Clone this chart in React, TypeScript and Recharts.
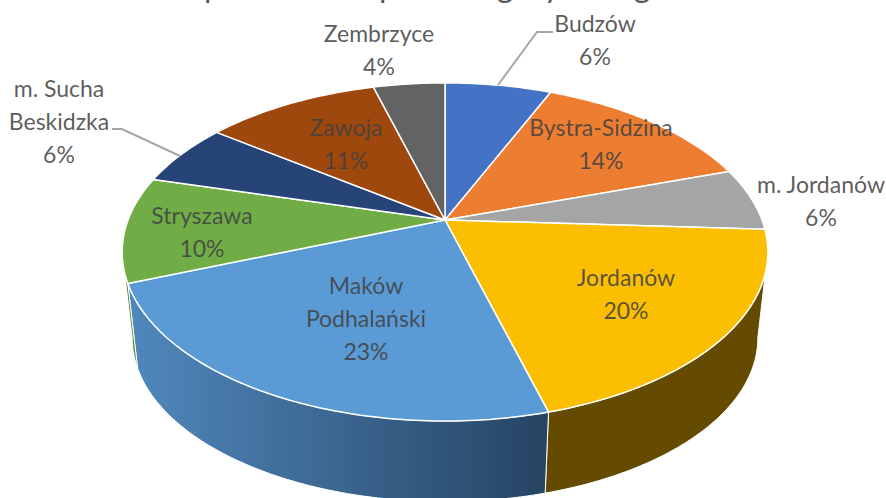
import React from 'react';
import { PieChart, Pie } from 'recharts';

const gminy = ['Budzów', 'Bystra-Sidzina', 'm. Jordanów', 'Jordanów', 'Maków Podhalański', 'Stryszawa', 'm. Sucha Beskidzka', 'Zawoja', 'Zembrzyce'];
// the printed labels are rounded
const shares = [6.4, 13.5, 6, 19.8, 23.4, 10.1, 6, 10.5, 4.3];
const topColors = ['#4472c4', '#ed7d31', '#a5a5a5', '#fbbe00', '#5b9bd5', '#70ad47', '#264478', '#9e480e', '#636363'];
const wallColors = ['#2b4a80', '#8f4c1e', '#666666', '#654b00', 'url(#makowWall)', '#5a8a3a', '#1c3358', '#6b310a', '#444444'];

// label text lines, one entry per gmina, anchor is the centre of the first line
const labelLines = [['Budzów', '6%'], ['Bystra-Sidzina', '14%'], ['m. Jordanów', '6%'], ['Jordanów', '20%'], ['Maków', 'Podhalański', '23%'], ['Stryszawa', '10%'], ['m. Sucha', 'Beskidzka', '6%'], ['Zawoja', '11%'], ['Zembrzyce', '4%']];
const labelAnchors = [[595, 24], [601, 128], [821, 185], [626, 278], [366, 286], [202, 216], [59, 89], [346, 128], [379, 34]];
const leaderLines = ['498,85 537,32 553,32', '', '', '', '', '', '112,129 122,129 180,156', '', ''];

// the title is cut off by the top of the picture, only these descenders are left
const titleGlyphs = ['p', 'p', 'g', 'y', 'g'];
const titleGlyphX = [213, 388, 505, 552, 642];

const pieData = gminy.map((name, i) => ({ name, value: shares[i] }));

// the picture has perspective: pie centre is above the centre of the rim ellipse
const APEX_X = 445;
const APEX_Y = 220;
const SCALE_X = 317;
const SCALE_Y = 163;
const TILT = -0.189;
const WALL_SCALE = 0.969;
const WALL_DROP = 87;
// where the rim ellipse turns from back to front
const SILHOUETTE_RIGHT = -10.9;
const SILHOUETTE_LEFT = -169.1;

function rimPoint(deg: number, scale = 1, drop = 0) {
  const a = (deg * Math.PI) / 180;
  const u = Math.cos(a);
  const v = -Math.sin(a);
  const w = 1 + TILT * v;
  return [APEX_X + (scale * SCALE_X * u) / w, APEX_Y + drop + (scale * SCALE_Y * v) / w];
}

function arcPoints(start: number, end: number, scale = 1, drop = 0) {
  const n = Math.max(2, Math.ceil(Math.abs(start - end)));
  const pts: number[][] = [];
  for (let i = 0; i <= n; i++) pts.push(rimPoint(start + ((end - start) * i) / n, scale, drop));
  return pts;
}

const toPath = (pts: number[][]) => 'M' + pts.map((p) => p[0].toFixed(1) + ' ' + p[1].toFixed(1)).join('L') + 'Z';

function TopSlice(props: any) {
  const d = toPath([[APEX_X, APEX_Y], ...arcPoints(props.startAngle, props.endAngle)]);
  return <path d={d} fill={topColors[props.index]} stroke="#fff" strokeWidth={1.5} strokeLinejoin="round" />;
}

function WallSlice(props: any) {
  // only the front of the rim shows a wall
  const start = Math.min(props.startAngle, SILHOUETTE_RIGHT);
  const end = Math.max(props.endAngle, SILHOUETTE_LEFT);
  if (start <= end) return <g />;
  const top = arcPoints(start, end);
  const bottom = arcPoints(end, start, WALL_SCALE, WALL_DROP);
  return <path d={toPath([...top, ...bottom])} fill={wallColors[props.index]} stroke="#fff" strokeWidth={1} />;
}

function SliceLabel(props: any) {
  const lines = labelLines[props.index];
  const [x, y] = labelAnchors[props.index];
  const leader = leaderLines[props.index];
  return (
    <g>
      {leader && <polyline points={leader} fill="none" stroke="#a6a6a6" strokeWidth={2} />}
      <text x={x} textAnchor="middle" fontFamily="Lato, sans-serif" fontSize={23} fill="#404040" fillOpacity={0.85}>
        {lines.map((line, i) => (
          <tspan key={line} x={x} y={y + i * 33 + 8}>
            {line}
          </tspan>
        ))}
      </text>
    </g>
  );
}

export default function App() {
  return (
    <div style={{ position: 'absolute', left: 0, top: 0, width: 886, height: 498, overflow: 'hidden' }}>
      <PieChart width={886} height={498} margin={{ top: 0, right: 0, bottom: 0, left: 0 }}>
        <defs>
          <linearGradient id="makowWall" x1="0" y1="0" x2="1" y2="0">
            <stop offset="0%" stopColor="#5088bd" />
            <stop offset="100%" stopColor="#264463" />
          </linearGradient>
        </defs>
        <text y={-3} fontFamily="Lato, sans-serif" fontSize={32} fill="#595959">
          {titleGlyphs.map((g, i) => (
            <tspan key={i} x={titleGlyphX[i]} textAnchor="middle">
              {g}
            </tspan>
          ))}
        </text>
        <Pie
          data={pieData}
          dataKey="value"
          cx={APEX_X}
          cy={APEX_Y}
          outerRadius={160}
          startAngle={90}
          endAngle={-270}
          isAnimationActive={false}
          shape={WallSlice}
        />
        <Pie
          data={pieData}
          dataKey="value"
          cx={APEX_X}
          cy={APEX_Y}
          outerRadius={160}
          startAngle={90}
          endAngle={-270}
          isAnimationActive={false}
          shape={TopSlice}
          label={SliceLabel}
          labelLine={false}
        />
      </PieChart>
    </div>
  );
}
